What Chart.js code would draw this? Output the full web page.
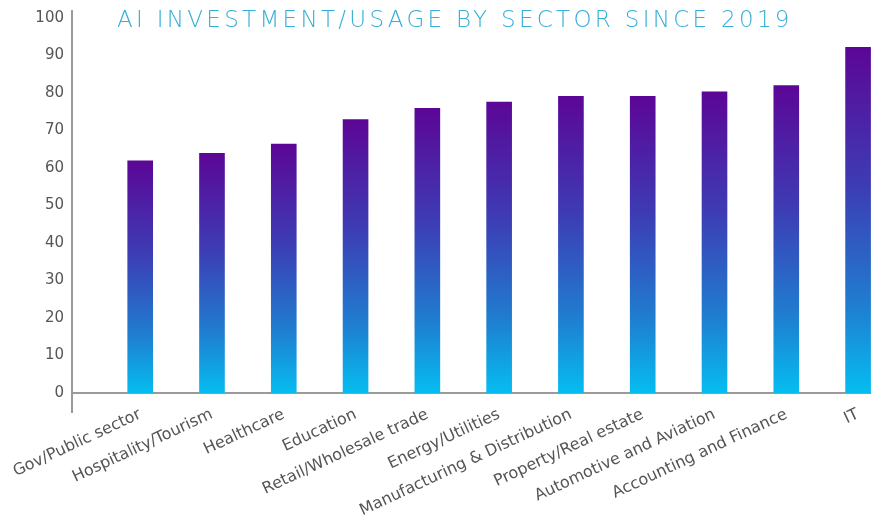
<!DOCTYPE html>
<html>
<head>
<meta charset="utf-8">
<title>AI investment by sector</title>
<script src="https://cdn.jsdelivr.net/npm/chart.js@4.4.1/dist/chart.umd.min.js"></script>
<style>
  html, body { margin: 0; padding: 0; background: #fff; }
  #wrap { position: relative; width: 871px; height: 525px; }
  #title {
    position: absolute; left: 117px; top: 6px;
    font: 200 23px 'DejaVu Sans', sans-serif;
    letter-spacing: 3.3px;
    color: #36aed8; white-space: nowrap;
  }
</style>
</head>
<body>
<div id="wrap">
  <canvas id="sectorChart" width="871" height="525"></canvas>
  <div id="title">AI INVESTMENT/USAGE BY SECTOR SINCE 2019</div>
</div>
<script>
// sectors and their share (%)
const sectors = [
  'Gov/Public sector', 'Hospitality/Tourism', 'Healthcare', 'Education',
  'Retail/Wholesale trade', 'Energy/Utilities', 'Manufacturing & Distribution',
  'Property/Real estate', 'Automotive and Aviation', 'Accounting and Finance', 'IT'
];
const usage = [62, 64, 66.5, 73, 76, 77.7, 79.2, 79.2, 80.4, 82.1, 92.3];
const yTicks = [0, 10, 20, 30, 40, 50, 60, 70, 80, 90, 100];

const axisGrey = '#9a9a9a';
const labelGrey = '#555';
const X_MIN = -0.95;

// purple at the top of each bar fading to cyan at its base
function barGradient(ctx) {
  const chart = ctx.chart;
  if (!chart.chartArea || ctx.dataIndex === undefined) return '#3a4fc0';
  const y = chart.scales.y;
  const top = y.getPixelForValue(usage[ctx.dataIndex]);
  const bottom = y.getPixelForValue(0);
  const g = chart.ctx.createLinearGradient(0, top, 0, bottom);
  g.addColorStop(0, '#5c0696');
  g.addColorStop(0.4, '#3d3cb4');
  g.addColorStop(0.75, '#1f7ed0');
  g.addColorStop(1, '#05bdf0');
  return g;
}

const ctx = document.getElementById('sectorChart').getContext('2d');
new Chart(ctx, {
  type: 'bar',
  data: {
    datasets: [{
      data: usage.map((v, i) => ({ x: i, y: v })),
      backgroundColor: barGradient,
      categoryPercentage: 1,
      barPercentage: 0.376
    }]
  },
  options: {
    responsive: false,
    animation: false,
    layout: { padding: { top: 10.5, right: 0, bottom: 0, left: 0 } },
    plugins: { legend: { display: false }, tooltip: { enabled: false } },
    scales: {
      x: {
        type: 'linear',
        offset: false,
        min: X_MIN,
        max: 10.18,
        afterBuildTicks: (scale) => {
          scale.ticks = [{ value: X_MIN }].concat(sectors.map((_, i) => ({ value: i })));
        },
        afterFit: (scale) => {
          scale.height = 132;
          scale.paddingLeft = 0;
          scale.paddingRight = 0;
        },
        grid: {
          offset: false,
          drawOnChartArea: false,
          tickLength: 20,
          lineWidth: 2,
          color: (c) => (c.tick && c.tick.value === X_MIN ? axisGrey : 'rgba(0,0,0,0)')
        },
        border: { display: true, color: axisGrey, width: 2 },
        ticks: {
          autoSkip: false,
          minRotation: 25,
          maxRotation: 25,
          padding: -8,
          color: labelGrey,
          font: { family: 'DejaVu Sans', size: 16 },
          callback: (v) => (Number.isInteger(v) && v >= 0 ? sectors[v] : '')
        }
      },
      y: {
        min: 0,
        max: 102,
        afterBuildTicks: (scale) => {
          scale.ticks = yTicks.map((v) => ({ value: v }));
        },
        afterFit: (scale) => {
          scale.width = 72;
          scale.paddingTop = 0;
          scale.paddingBottom = 0;
        },
        grid: { display: false, drawTicks: false },
        border: { display: true, color: axisGrey, width: 2 },
        ticks: {
          padding: 8,
          color: labelGrey,
          font: { family: 'DejaVu Sans', size: 15 }
        }
      }
    }
  }
});
</script>
</body>
</html>
